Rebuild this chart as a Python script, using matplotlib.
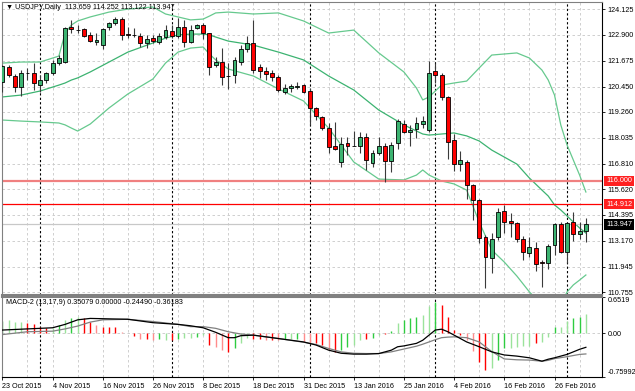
import matplotlib.pyplot as plt
import matplotlib.transforms as mtransforms

# ---- daily USDJPY candles, 23 Oct 2015 .. 4 Mar 2016 ----
opens = [120.68, 121.39, 120.96, 120.44, 121.10, 121.10, 120.53, 120.77, 121.10, 121.57,
         121.62, 123.27, 123.13, 123.18, 122.90, 122.57, 122.42, 123.27, 123.46, 123.65,
         122.94, 122.90, 122.85, 122.52, 122.75, 122.57, 122.80, 123.09, 122.85, 123.27,
         122.57, 123.23, 123.37, 122.99, 121.48, 121.62, 120.96, 121.01, 121.62, 122.24,
         122.52, 121.39, 121.20, 121.10, 120.91, 120.20, 120.39, 120.44, 120.53, 120.25,
         119.45, 119.02, 118.50, 117.65, 116.90, 117.80, 117.65, 117.65, 118.08, 116.85,
         117.32, 117.65, 116.94, 117.80, 118.69, 118.31, 118.46, 118.69, 118.41, 121.20,
         121.01, 119.97, 117.94, 116.80, 116.90, 115.81, 115.10, 113.35, 112.36, 113.35,
         114.58, 114.11, 114.02, 113.26, 112.60, 112.83, 112.17, 112.13, 112.98, 113.97,
         112.65, 114.06, 113.50, 113.659]
highs = [121.48, 121.48, 121.05, 121.24, 121.34, 121.57, 121.01, 121.15, 121.72, 121.95,
         123.27, 123.61, 123.37, 123.23, 123.04, 122.99, 123.23, 123.51, 123.75, 123.75,
         123.27, 123.23, 122.99, 122.90, 122.90, 122.99, 123.37, 123.37, 123.70, 123.61,
         123.37, 123.42, 123.46, 123.00, 121.86, 122.28, 121.57, 121.86, 122.42, 122.85,
         123.61, 121.53, 121.39, 121.24, 121.01, 120.58, 120.58, 120.68, 120.58, 120.39,
         119.50, 119.07, 118.74, 118.79, 118.08, 118.08, 118.36, 118.31, 118.27, 117.46,
         118.08, 117.80, 117.84, 118.93, 118.88, 118.65, 119.02, 119.07, 121.67, 121.57,
         121.10, 120.00, 118.22, 117.42, 116.99, 115.86, 115.15, 113.45, 113.54, 114.72,
         114.87, 114.49, 114.06, 113.40, 113.35, 113.12, 112.27, 113.02, 114.02, 114.06,
         114.06, 114.54, 114.06, 114.252]
lows = [120.20, 120.91, 120.20, 120.02, 120.77, 120.30, 120.20, 120.63, 121.01, 121.48,
        121.57, 122.99, 122.99, 122.80, 122.57, 122.42, 122.24, 123.13, 123.37, 122.66,
        122.75, 122.80, 122.33, 122.28, 122.52, 122.47, 122.71, 122.75, 122.75, 122.33,
        122.52, 123.18, 122.71, 121.01, 121.39, 120.53, 120.35, 120.63, 121.48, 122.09,
        121.10, 120.87, 120.77, 120.72, 120.20, 120.11, 120.20, 120.35, 120.16, 118.65,
        118.88, 118.41, 117.32, 117.46, 116.66, 117.23, 117.64, 117.32, 116.52, 116.66,
        117.23, 115.95, 116.43, 117.51, 118.27, 117.65, 118.03, 118.50, 118.31, 120.63,
        119.83, 117.04, 116.47, 116.47, 115.15, 114.16, 113.07, 110.95, 111.65, 113.21,
        113.54, 113.35, 113.12, 112.27, 112.41, 111.75, 110.99, 111.84, 112.50, 112.60,
        112.13, 113.17, 113.26, 113.122]
closes = [121.43, 121.01, 120.44, 121.10, 121.12, 120.63, 120.77, 121.10, 121.57, 121.81,
          123.23, 123.20, 123.14, 122.85, 122.61, 122.66, 123.18, 123.46, 123.65, 122.90,
          122.92, 122.91, 122.52, 122.71, 122.61, 122.85, 123.13, 122.85, 123.27, 122.57,
          123.13, 123.37, 122.99, 121.39, 121.62, 120.91, 120.95, 121.72, 122.24, 122.52,
          121.24, 121.20, 121.05, 120.91, 120.30, 120.39, 120.49, 120.49, 120.20, 119.45,
          119.07, 118.50, 117.61, 117.51, 117.75, 117.65, 117.66, 118.08, 116.99, 117.32,
          117.65, 116.94, 117.70, 118.83, 118.31, 118.41, 118.74, 118.83, 121.10, 121.01,
          119.97, 117.84, 116.80, 116.99, 115.81, 115.10, 113.31, 112.41, 113.26, 114.54,
          114.06, 114.02, 113.26, 112.65, 112.88, 112.08, 112.13, 112.93, 113.97, 112.65,
          114.02, 113.50, 113.64, 113.947]

# ---- Bollinger bands read at selected bars ----
band_idx = [0, 3, 6, 9, 10, 11, 12, 14, 17, 20, 24, 26, 28, 30, 32, 33, 34, 36, 40, 44, 48,
            52, 56, 60, 64, 66, 67, 68, 70, 72, 74, 76, 78, 80, 82, 84, 86, 87, 88, 89, 90,
            91, 92, 93]
bb_upper = [121.57, 121.62, 121.62, 121.90, 122.99, 123.37, 123.56, 123.75, 123.98, 124.12,
            124.22, 123.89, 123.75, 123.61, 123.65, 123.79, 123.94, 123.98, 123.89, 123.94,
            123.56, 122.99, 123.13, 122.05, 121.15, 120.39, 119.83, 119.97, 120.53, 120.63,
            120.72, 121.34, 121.95, 122.00, 122.05, 121.81, 121.24, 120.77, 120.06, 118.65,
            117.70, 116.99, 116.28, 115.48]
bb_middle = [119.97, 120.06, 120.25, 120.53, 120.63, 120.77, 120.87, 121.15, 121.62, 122.09,
             122.52, 122.75, 122.90, 122.94, 122.94, 122.90, 122.80, 122.61, 122.42, 122.09,
             121.72, 120.96, 120.30, 119.35, 118.65, 118.36, 118.22, 118.17, 118.22, 118.27,
             118.13, 117.89, 117.46, 117.13, 116.80, 116.14, 115.57, 115.29, 114.87, 114.63,
             114.35, 114.06, 113.78, 113.54]
bb_lower = [118.88, 118.83, 118.79, 118.74, 118.65, 118.50, 118.36, 118.69, 119.45, 120.11,
            120.82, 121.57, 122.09, 122.28, 122.33, 122.00, 121.72, 121.29, 120.96, 120.35,
            119.78, 118.50, 116.90, 116.09, 116.05, 116.28, 116.52, 116.28, 116.00, 115.86,
            115.57, 114.06, 112.74, 112.17, 111.51, 110.76, 110.14, 109.91, 109.91, 110.14,
            110.76, 111.09, 111.32, 111.56]

# ---- MACD-2 (13,17,9) ----
hist = [0.218, 0.235, 0.194, 0.206, 0.176, 0.159, 0.118, 0.10, 0.10, 0.147,
        0.235, 0.265, 0.294, 0.265, 0.194, 0.147, 0.118, 0.118, 0.118, 0.029,
        0.0, -0.041, -0.10, -0.10, -0.118, -0.106, -0.118, -0.118, -0.10, -0.088,
        -0.076, -0.059, -0.029, -0.206, -0.235, -0.294, -0.324, -0.265, -0.176, -0.088,
        -0.10, -0.106, -0.118, -0.118, -0.118, -0.106, -0.106, -0.106, -0.159, -0.176,
        -0.176, -0.206, -0.294, -0.324, -0.294, -0.235, -0.206, -0.118, -0.10, -0.076,
        -0.029, -0.018, 0.041, 0.176, 0.235, 0.265, 0.294, 0.324, 0.488, 0.547,
        0.50, 0.294, 0.059, -0.029, -0.118, -0.312, -0.512, -0.647, -0.618, -0.47,
        -0.265, -0.253, -0.235, -0.224, -0.218, -0.176, -0.147, -0.059, 0.118, 0.118,
        0.218, 0.265, 0.294, 0.35079]
hist_kind = ['g', 'lg', 'lg', 'lg', 'r', 'r', 'r', 'r', 'lg', 'g',
             'lg', 'g', 'lg', 'r', 'r', 'lr', 'r', 'r', 'r', 'lr',
             'r', 'r', 'lr', 'r', 'lr', 'g', 'lg', 'r', 'g', 'lg',
             'lg', 'g', 'lg', 'r', 'lr', 'lr', 'r', 'g', 'lg', 'lg',
             'r', 'r', 'lr', 'r', 'lr', 'g', 'lg', 'g', 'lr', 'lr',
             'r', 'r', 'lr', 'r', 'g', 'g', 'lg', 'lg', 'r', 'g',
             'lg', 'r', 'g', 'lg', 'g', 'g', 'g', 'lg', 'lg', 'g',
             'r', 'r', 'r', 'r', 'lr', 'lr', 'r', 'r', 'lg', 'g',
             'g', 'lg', 'lg', 'lg', 'lg', 'r', 'lg', 'lg', 'g', 'lg',
             'lg', 'g', 'g', 'lg']
macd_idx = [0, 4, 8, 10, 12, 14, 16, 20, 24, 28, 30, 32, 34, 36, 37, 38, 40, 44, 48, 50, 52,
            54, 56, 58, 60, 62, 63, 64, 66, 67, 68, 69, 70, 71, 72, 74, 76, 78, 80, 82, 84,
            86, 87, 88, 90, 92, 93]
macd_black = [0.06, 0.08, 0.10, 0.16, 0.24, 0.265, 0.26, 0.25, 0.19, 0.16, 0.135, 0.10, 0.02,
              -0.075, -0.075, -0.04, -0.03, -0.09, -0.15, -0.205, -0.295, -0.35, -0.365,
              -0.365, -0.355, -0.295, -0.235, -0.22, -0.175, -0.12, -0.03, 0.06, 0.075, 0.03,
              -0.03, -0.15, -0.235, -0.325, -0.38, -0.40, -0.43, -0.49, -0.455, -0.43, -0.37,
              -0.28, -0.2449]
macd_gray = [-0.02, 0.03, 0.04, 0.08, 0.13, 0.20, 0.24, 0.25, 0.21, 0.16, 0.12, 0.12, 0.09,
             0.03, 0.01, -0.01, -0.03, -0.09, -0.155, -0.195, -0.265, -0.325, -0.35, -0.355,
             -0.355, -0.325, -0.30, -0.275, -0.225, -0.19, -0.15, -0.11, -0.075, -0.065,
             -0.06, -0.075, -0.15, -0.32, -0.45, -0.465, -0.47, -0.49, -0.475, -0.445, -0.41,
             -0.37, -0.36183]

price_ticks = [124.125, 122.900, 121.675, 120.450, 119.260, 118.035, 116.810, 115.620,
               114.395, 113.170, 111.945, 110.755]
date_idx = [0, 8, 16, 24, 32, 40, 48, 56, 64, 72, 80, 88]
date_labels = ['23 Oct 2015', '4 Nov 2015', '16 Nov 2015', '26 Nov 2015', '8 Dec 2015',
               '18 Dec 2015', '31 Dec 2015', '13 Jan 2016', '25 Jan 2016', '4 Feb 2016',
               '16 Feb 2016', '26 Feb 2016']
month_starts = [6, 27, 49, 69, 90]
level_lines = [116.000, 114.912]
last_price = 113.947

W, H = 635, 391
plt.rcParams['font.family'] = ['Liberation Sans', 'DejaVu Sans']
plt.rcParams['font.size'] = 5.2

fig = plt.figure(figsize=(W / 100, H / 100), dpi=100)
ax = fig.add_axes([2 / W, 1 - 294.5 / H, 600 / W, 292.5 / H])
ax2 = fig.add_axes([2 / W, 1 - 376.5 / H, 600 / W, 80 / H])

xlim = (-0.06, 95.57)
grid_kw = dict(color='#c8c8c8', lw=0.6, ls=(0, (3, 3)), zorder=0)
for a in (ax, ax2):
    a.set_xlim(*xlim)
    for gx in range(4, 96, 4):
        a.axvline(gx, **grid_kw)
    for m in month_starts:
        a.axvline(m, color='black', lw=0.8, ls=(0, (2, 2)), zorder=1)
    a.set_facecolor('white')

# price panel
ax.set_ylim(110.638, 124.456)
for p in price_ticks:
    ax.axhline(p, **grid_kw)

ax.plot(band_idx, bb_upper, color='#66c98e', lw=0.9, zorder=2)
ax.plot(band_idx, bb_middle, color='#3cb371', lw=0.9, zorder=2)
ax.plot(band_idx, bb_lower, color='#66c98e', lw=0.9, zorder=2)

ax.axhline(level_lines[0], color='#f08080', lw=1.6, zorder=2)
ax.axhline(level_lines[1], color='#ff0000', lw=0.9, zorder=2)
ax.axhline(last_price, color='#c8c8c8', lw=0.9, zorder=2)

xs = range(len(opens))
for i in xs:
    o, h, l, c = opens[i], highs[i], lows[i], closes[i]
    up = c >= o
    ax.vlines(i, l, h, color='#3a3a3a', lw=0.8, zorder=3)
    lo, hi = min(o, c), max(o, c)
    ax.bar(i, max(hi - lo, 0.02), bottom=lo, width=0.62,
           color='#3cb371' if up else '#ff0000', edgecolor='black', lw=0.6, zorder=4)

ax.yaxis.tick_right()
ax.set_yticks(price_ticks)
ax.set_yticklabels([f'{p:.3f}' for p in price_ticks])
ax.tick_params(axis='y', length=2.5, width=0.6, pad=1.5, labelsize=5.2)
ax.set_xticks([])
for s in ('left', 'top', 'bottom'):
    ax.spines[s].set_color('#808080')
ax.spines['right'].set_color('black')
ax.spines['bottom'].set_linewidth(1.5)
ax.spines['right'].set_linewidth(0.8)

trans = mtransforms.blended_transform_factory(ax.transAxes, ax.transData)
box_x = 1 + 4 / 600
for val, bg in ((level_lines[0], '#ff2020'), (level_lines[1], '#ff2020'), (last_price, 'black')):
    ax.text(box_x, val, f'{val:.3f}', transform=trans, color='white', fontsize=5.2,
            va='center', ha='left', clip_on=False, zorder=10,
            bbox=dict(boxstyle='square,pad=0.25', fc=bg, ec='none'))

ax.text(0.006, 0.982, '\u25bc USDJPY,Daily  113.659 114.252 113.122 113.947',
        transform=ax.transAxes, fontsize=5.2, va='center', ha='left')

# MACD panel
macd_colors = {'g': '#2ecc40', 'lg': '#9be39b', 'r': '#ff0000', 'lr': '#ff8c8c'}
ax2.set_ylim(-0.75992, 0.6519)
ax2.axhline(0, **grid_kw)
ax2.vlines(list(xs), 0, hist, colors=[macd_colors[k] for k in hist_kind], lw=1.0, zorder=2)
ax2.plot(macd_idx, macd_gray, color='#808080', lw=0.9, zorder=3)
ax2.plot(macd_idx, macd_black, color='black', lw=0.9, zorder=4)
ax2.yaxis.tick_right()
ax2.set_yticks([0.6519, 0.0, -0.75992])
ax2.set_yticklabels(['0.6519', '0.00', '-0.75992'])
ax2.tick_params(axis='y', length=2.5, width=0.6, pad=1.5, labelsize=5.2)
lbls = ax2.get_yticklabels()
lbls[0].set_va('top')
lbls[2].set_va('bottom')
ax2.set_xticks(date_idx)
ax2.set_xticklabels(date_labels, ha='left')
ax2.tick_params(axis='x', length=2.5, width=0.6, pad=2, labelsize=5.2)
ax2.spines['top'].set_color('#808080')
ax2.spines['top'].set_linewidth(1.5)
ax2.spines['left'].set_color('#808080')
ax2.text(0.006, 0.92, 'MACD-2 (13,17,9) 0.35079 0.00000 -0.24490 -0.36183',
         transform=ax2.transAxes, fontsize=5.2, va='center', ha='left')

fig.savefig('out.png', dpi=100)
